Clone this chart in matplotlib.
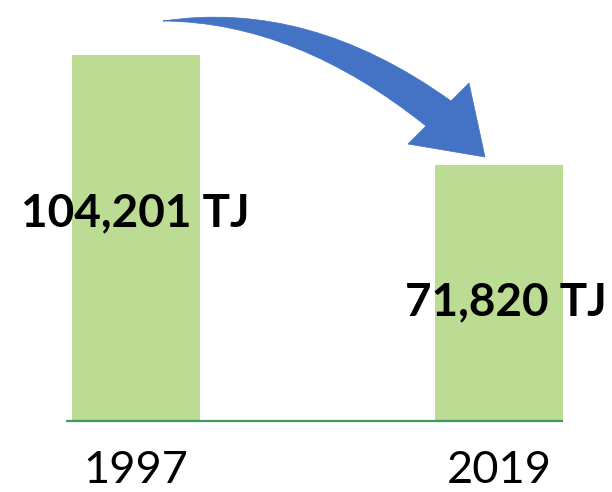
import matplotlib
matplotlib.use("Agg")
import matplotlib.pyplot as plt
from matplotlib.path import Path
from matplotlib.patches import PathPatch
from matplotlib.transforms import Affine2D

years = ["1997", "2019"]
values = [104201, 71820]
labels = ["104,201 TJ", "71,820 TJ"]

W, H = 612, 492
fig = plt.figure(figsize=(W / 100, H / 100), dpi=100)
base_px = 421
ax = fig.add_axes([0, (H - base_px) / H, 1, base_px / H])
unit = 363.0
x0 = 136.0
ymin = -3500
ax.set_xlim(-x0 / unit, (W - x0) / unit)
ppd = 366.0 / (values[0] - ymin)
ax.set_ylim(ymin, ymin + base_px / ppd)
ax.bar([0, 1], [v - ymin for v in values], bottom=ymin, width=128 / unit,
       color="#BCDB93", zorder=1)
ax.plot([(66 - x0) / unit, (563 - x0) / unit], [ymin, ymin], color="#3E9B5F", lw=1.6,
        zorder=3, clip_on=False, solid_capstyle="butt")
for s in ax.spines.values():
    s.set_visible(False)
ax.set_yticks([])
ax.set_xticks([0, 1])
ax.set_xticklabels(years, fontsize=32.5, family="Lato")
ax.tick_params(axis="x", length=0, pad=21)

lab_px = [213, 302]
lab_dx = [-1 / unit, 7 / unit]
for i, t in enumerate(labels):
    ax.text(i + lab_dx[i], ymin + (base_px - lab_px[i]) / ppd, t, ha="center", va="center",
            fontsize=33, fontweight="bold", family="Lato", color="black", zorder=4)

# curved arrow (decoration) in pixel coordinates from top-left
verts = [
    (163, 21), (309, -1), (451, 101),
    (469, 83), (485, 157), (408, 144), (426, 126),
    (296, 22), (163, 21),
]
codes = [Path.MOVETO, Path.CURVE3, Path.CURVE3,
         Path.LINETO, Path.LINETO, Path.LINETO, Path.LINETO,
         Path.CURVE3, Path.CURVE3]
path = Path(verts, codes)
tr = Affine2D().scale(1 / W, -1 / H).translate(0, 1) + fig.transFigure
fig.patches.append(PathPatch(path, facecolor="#4472C4", edgecolor="#4472C4",
                             lw=0.5, transform=tr, figure=fig))

fig.savefig("out.png", dpi=100)
